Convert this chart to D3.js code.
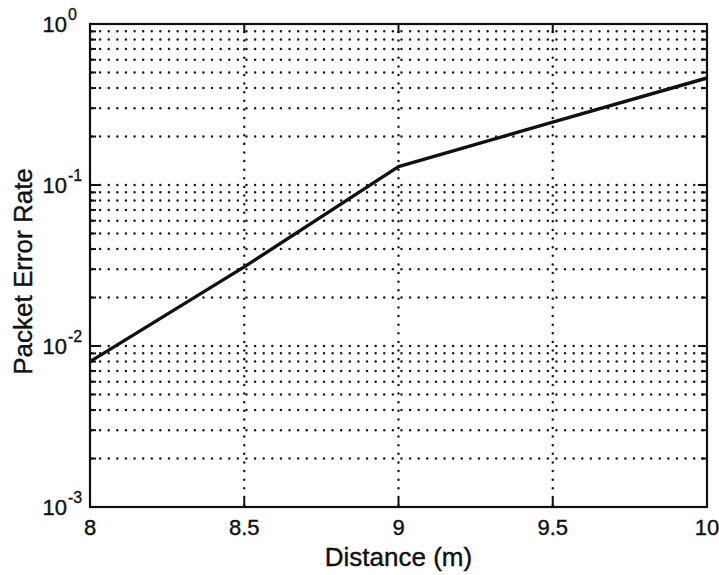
<!DOCTYPE html>
<html>
<head>
<meta charset="utf-8">
<script src="https://cdn.jsdelivr.net/npm/d3@7"></script>
<style>
  html, body { margin: 0; padding: 0; background: #fff; }
  svg { display: block; }
  text { font-family: "Liberation Sans", Arial, Helvetica, sans-serif; fill: #111; }
</style>
</head>
<body>
<svg id="chart" width="719" height="575"></svg>
<script>
// Packet error rate versus distance
const distance = [8, 8.5, 9, 9.5, 10];
const packetErrorRate = [0.0080, 0.031, 0.130, 0.246, 0.462];
const xTicks = [8, 8.5, 9, 9.5, 10];
const xTickLabels = ["8", "8.5", "9", "9.5", "10"];
const yDecades = [1e-3, 1e-2, 1e-1, 1];
const yExponents = ["-3", "-2", "-1", "0"];

const svg = d3.select("#chart");
const plot = { left: 90, right: 707, top: 24, bottom: 507 };

const x = d3.scaleLinear().domain([8, 10]).range([plot.left, plot.right]);
const y = d3.scaleLog().domain([1e-3, 1]).range([plot.bottom, plot.top]);

// minor values 2..9 within each decade
const minorVals = [];
yDecades.slice(0, -1).forEach(d => { for (let k = 2; k <= 9; k++) minorVals.push(d * k); });

// round dots for the grid
const dotted = { stroke: "#1a1a1a", width: 2.5, dash: "0.01,8.6" };

// horizontal grid at decades and minor values
const gridY = yDecades.slice(1, -1).concat(minorVals);
svg.append("g").selectAll("line").data(gridY).join("line")
  .attr("x1", plot.left + 1.5).attr("x2", plot.right)
  .attr("y1", d => y(d)).attr("y2", d => y(d))
  .attr("stroke", dotted.stroke).attr("stroke-width", dotted.width)
  .attr("stroke-dasharray", dotted.dash).attr("stroke-linecap", "round");

// vertical grid
svg.append("g").selectAll("line").data(xTicks.slice(1, -1)).join("line")
  .attr("x1", d => x(d)).attr("x2", d => x(d))
  .attr("y1", plot.bottom - 1.5).attr("y2", plot.top)
  .attr("stroke", dotted.stroke).attr("stroke-width", dotted.width)
  .attr("stroke-dasharray", dotted.dash).attr("stroke-linecap", "round");

// ticks (inward) on all sides
const tickG = svg.append("g").attr("stroke", "#111").attr("stroke-width", 2);
const yTickData = yDecades.map(v => ({ v, len: 9 })).concat(minorVals.map(v => ({ v, len: 6 })));
tickG.selectAll(".yl").data(yTickData).join("line").attr("class", "yl")
  .attr("x1", plot.left).attr("x2", d => plot.left + d.len)
  .attr("y1", d => y(d.v)).attr("y2", d => y(d.v));
tickG.selectAll(".yr").data(yTickData).join("line").attr("class", "yr")
  .attr("x1", plot.right).attr("x2", d => plot.right - d.len)
  .attr("y1", d => y(d.v)).attr("y2", d => y(d.v));
tickG.selectAll(".xb").data(xTicks).join("line").attr("class", "xb")
  .attr("x1", d => x(d)).attr("x2", d => x(d))
  .attr("y1", plot.bottom).attr("y2", plot.bottom - 9);
tickG.selectAll(".xt").data(xTicks).join("line").attr("class", "xt")
  .attr("x1", d => x(d)).attr("x2", d => x(d))
  .attr("y1", plot.top).attr("y2", plot.top + 9);

// frame
svg.append("rect")
  .attr("x", plot.left).attr("y", plot.top)
  .attr("width", plot.right - plot.left).attr("height", plot.bottom - plot.top)
  .attr("fill", "none").attr("stroke", "#111").attr("stroke-width", 2.2);

// data line
const line = d3.line().x((d, i) => x(distance[i])).y(d => y(d));
svg.append("path").datum(packetErrorRate)
  .attr("d", line)
  .attr("fill", "none").attr("stroke", "#111").attr("stroke-width", 3.4)
  .attr("stroke-linejoin", "round");

// x tick labels
svg.append("g").selectAll("text").data(xTicks).join("text")
  .attr("x", d => x(d)).attr("y", 534.5)
  .attr("text-anchor", "middle").attr("font-size", 22)
  .attr("stroke", "#111").attr("stroke-width", 0.4)
  .text((d, i) => xTickLabels[i]);

// y tick labels: 10 with superscript exponent
const yl = svg.append("g").selectAll("g").data(yDecades).join("g")
  .attr("transform", d => `translate(0,${y(d)})`);
yl.append("text").attr("x", 67).attr("y", 8)
  .attr("text-anchor", "end").attr("font-size", 22)
  .attr("stroke", "#111").attr("stroke-width", 0.4).text("10");
yl.append("text").attr("x", 68).attr("y", -4.5)
  .attr("font-size", 16)
  .attr("stroke", "#111").attr("stroke-width", 0.3)
  .text((d, i) => yExponents[i]);

// axis titles
svg.append("text").attr("x", x(9)).attr("y", 566)
  .attr("text-anchor", "middle").attr("font-size", 26)
  .attr("stroke", "#111").attr("stroke-width", 0.4).text("Distance (m)");
svg.append("text")
  .attr("transform", `translate(32,${(plot.top + plot.bottom) / 2 + 6}) rotate(-90)`)
  .attr("text-anchor", "middle").attr("font-size", 26)
  .attr("stroke", "#111").attr("stroke-width", 0.4).text("Packet Error Rate");
</script>
</body>
</html>
